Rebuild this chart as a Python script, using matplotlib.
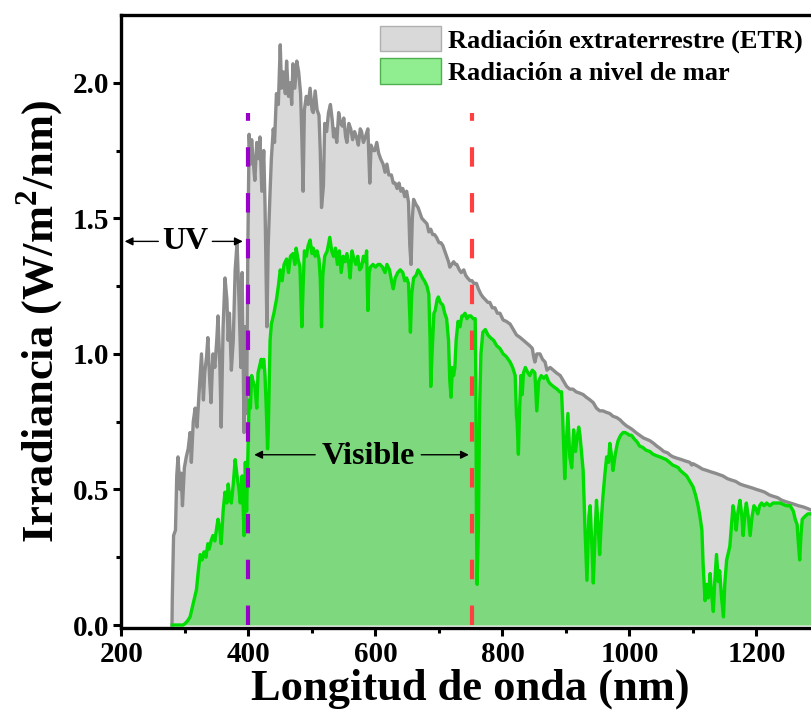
import matplotlib
matplotlib.use("Agg")
import matplotlib.pyplot as plt
from matplotlib.patches import Patch
import numpy as np

plt.rcParams['font.family'] = ['Liberation Serif', 'DejaVu Serif']
plt.rcParams['font.weight'] = 'bold'
plt.rcParams['mathtext.fontset'] = 'custom'
plt.rcParams['mathtext.rm'] = 'Liberation Serif:bold'
plt.rcParams['mathtext.bf'] = 'Liberation Serif:bold'
plt.rcParams['lines.scale_dashes'] = False

# ---- data: extraterrestrial radiation (ETR) ----
etr_wl = [279.5, 280, 282, 285, 287, 289, 292, 294, 296, 299, 302, 305, 308, 310, 313, 316, 319, 322, 326, 329,
          331, 334, 336, 339, 341, 344, 347, 350, 352, 355, 357, 360, 363, 366, 368, 370, 373, 376, 379, 382,
          385, 388, 390, 393, 395, 397, 399, 401, 403, 405, 407, 410, 413, 416, 418, 421, 424, 426, 429, 431,
          434, 436, 439, 441, 444, 447, 450, 452, 455, 458, 460, 463, 466, 468, 470, 473, 476, 479, 482, 484,
          486, 488, 491, 494, 497, 500, 502, 505, 508, 511, 513, 515, 518, 520, 523, 526, 529, 532, 534, 536,
          539, 542, 545, 548, 550, 553, 555, 558, 561, 564, 567, 570, 573, 576, 578, 581, 584, 588, 590, 591,
          593, 596, 599, 602, 605, 608, 612, 615, 618, 621, 625, 628, 631, 634, 637, 640, 643, 646, 649, 652,
          654, 656, 658, 660, 664, 667, 670, 673, 677, 681, 684, 687, 690, 693, 696, 700, 703, 706, 709, 712,
          715, 717, 720, 723, 726, 728, 732, 735, 739, 742, 745, 749, 752, 755, 759, 762, 766, 769, 773, 777,
          780, 784, 788, 792, 796, 801, 806, 812, 817, 822, 828, 833, 838, 843, 847, 849, 851, 854, 859, 863,
          867, 870, 875, 880, 885, 891, 896, 901, 906, 911, 916, 922, 927, 932, 938, 943, 948, 953, 958, 963,
          969, 974, 980, 985, 990, 995, 1000, 1005, 1010, 1016, 1022, 1027, 1032, 1038, 1043, 1049, 1054, 1060, 1065, 1069,
          1075, 1082, 1088, 1095, 1098, 1100, 1108, 1115, 1122, 1128, 1135, 1141, 1147, 1154, 1160, 1167, 1174, 1180, 1187, 1194,
          1200, 1207, 1213, 1220, 1226, 1233, 1240, 1246, 1253, 1260, 1266, 1273, 1280, 1290, 1300]
etr_val = [0.0, 0.10, 0.33, 0.35, 0.55, 0.62, 0.50, 0.56, 0.44, 0.58, 0.62, 0.65, 0.71, 0.60, 0.75, 0.80, 0.73, 0.85, 1.00, 0.83,
           0.93, 0.99, 1.06, 0.90, 0.82, 1.00, 0.95, 1.05, 1.14, 0.95, 0.73, 1.10, 1.28, 1.20, 1.05, 1.15, 0.94, 1.05, 1.31, 1.41,
           1.20, 0.95, 1.30, 0.71, 1.10, 0.78, 1.40, 1.81, 1.70, 1.79, 1.72, 1.64, 1.78, 1.72, 1.80, 1.60, 1.75, 1.55, 1.10, 1.40,
           1.60, 1.72, 1.83, 1.78, 1.96, 1.92, 2.14, 1.98, 2.04, 1.96, 2.08, 1.95, 2.00, 1.92, 2.07, 1.98, 2.08, 2.04, 1.96, 1.80,
           1.60, 1.90, 1.95, 1.92, 1.98, 1.90, 1.89, 1.97, 1.90, 1.88, 1.75, 1.54, 1.62, 1.85, 1.82, 1.89, 1.92, 1.86, 1.80, 1.83,
           1.78, 1.89, 1.85, 1.84, 1.87, 1.80, 1.78, 1.85, 1.83, 1.79, 1.82, 1.80, 1.77, 1.83, 1.82, 1.78, 1.80, 1.83, 1.70, 1.63,
           1.77, 1.75, 1.75, 1.78, 1.74, 1.72, 1.70, 1.67, 1.70, 1.66, 1.66, 1.63, 1.63, 1.61, 1.63, 1.60, 1.61, 1.58, 1.60, 1.56,
           1.40, 1.33, 1.50, 1.57, 1.55, 1.54, 1.52, 1.50, 1.49, 1.48, 1.45, 1.46, 1.44, 1.44, 1.43, 1.41, 1.41, 1.40, 1.38, 1.36,
           1.34, 1.32, 1.33, 1.34, 1.33, 1.33, 1.31, 1.30, 1.31, 1.29, 1.28, 1.27, 1.27, 1.26, 1.26, 1.24, 1.22, 1.21, 1.20, 1.19,
           1.19, 1.17, 1.17, 1.15, 1.15, 1.125, 1.12, 1.11, 1.09, 1.07, 1.06, 1.05, 1.04, 1.03, 1.02, 0.99, 0.97, 1.00, 1.00, 0.98,
           0.97, 0.94, 0.95, 0.94, 0.93, 0.92, 0.90, 0.88, 0.87, 0.87, 0.86, 0.855, 0.85, 0.84, 0.83, 0.82, 0.80, 0.79, 0.79, 0.785,
           0.78, 0.77, 0.765, 0.757, 0.745, 0.735, 0.728, 0.72, 0.71, 0.70, 0.69, 0.685, 0.68, 0.67, 0.66, 0.65, 0.64, 0.635, 0.625, 0.62,
           0.615, 0.61, 0.605, 0.60, 0.59, 0.595, 0.585, 0.575, 0.57, 0.565, 0.56, 0.555, 0.55, 0.54, 0.535, 0.53, 0.52, 0.515, 0.51, 0.505,
           0.50, 0.495, 0.49, 0.48, 0.475, 0.47, 0.46, 0.455, 0.45, 0.445, 0.44, 0.436, 0.43, 0.42, 0.41]

# ---- data: sea-level radiation ----
sea_wl = [280, 297, 300, 304, 308, 312, 315, 318, 321, 324, 327, 330, 333, 336, 338, 341, 344, 347, 350, 352,
          355, 357, 360, 363, 366, 368, 370, 373, 376, 379, 382, 385, 387, 390, 393, 395, 397, 399, 401, 403,
          405, 407, 410, 413, 415, 418, 420, 422, 424, 426, 428, 430, 431, 434, 436, 440, 444, 447, 450, 453,
          456, 460, 463, 466, 470, 473, 475, 478, 481, 484, 486, 488, 491, 494, 497, 500, 502, 505, 508, 511,
          513, 515, 517, 520, 524, 528, 531, 534, 537, 540, 543, 546, 549, 552, 555, 558, 560, 563, 566, 569,
          572, 575, 578, 581, 584, 586, 588, 590, 592, 596, 600, 604, 607, 611, 615, 618, 622, 626, 628, 631,
          635, 639, 643, 646, 649, 652, 655, 657, 660, 664, 667, 670, 674, 677, 681, 684, 686, 687, 689, 692,
          694, 697, 699, 702, 706, 709, 712, 715, 717, 719, 721, 723, 725, 727, 730, 733, 736, 738, 741, 744,
          747, 750, 754, 757, 758, 759, 760, 762, 764, 766, 769, 773, 777, 781, 786, 791, 796, 801, 806, 812,
          816, 820, 822, 823, 825, 827, 829, 831, 833, 836, 840, 843, 847, 851, 854, 857, 861, 865, 869, 872,
          875, 880, 886, 890, 893, 895, 898, 900, 903, 906, 909, 912, 915, 917, 920, 922, 925, 927, 930, 933,
          936, 938, 941, 943, 946, 948, 951, 953, 956, 958, 961, 964, 967, 969, 972, 974, 977, 980, 982, 986,
          990, 993, 997, 1000, 1003, 1008, 1012, 1016, 1021, 1026, 1032, 1037, 1042, 1048, 1053, 1058, 1063, 1068, 1073, 1077,
          1080, 1085, 1090, 1095, 1100, 1104, 1108, 1111, 1114, 1116, 1119, 1122, 1124, 1127, 1129, 1132, 1134, 1137, 1140, 1142,
          1145, 1148, 1150, 1153, 1156, 1158, 1161, 1163, 1166, 1168, 1171, 1174, 1177, 1179, 1182, 1184, 1187, 1190, 1193, 1196,
          1199, 1202, 1205, 1208, 1212, 1216, 1221, 1226, 1231, 1237, 1242, 1247, 1253, 1258, 1261, 1264, 1266, 1268, 1270, 1272,
          1276, 1281, 1290, 1300]
sea_val = [0.0, 0.0, 0.005, 0.015, 0.03, 0.07, 0.10, 0.13, 0.20, 0.26, 0.24, 0.27, 0.25, 0.30, 0.28, 0.31, 0.33, 0.31, 0.36, 0.39,
           0.35, 0.30, 0.42, 0.49, 0.45, 0.52, 0.48, 0.45, 0.52, 0.61, 0.55, 0.50, 0.45, 0.55, 0.33, 0.60, 0.42, 0.63, 0.83, 0.80,
           0.92, 0.90, 0.88, 0.80, 0.93, 0.96, 0.98, 0.95, 0.98, 0.92, 0.80, 0.65, 0.70, 1.05, 1.11, 1.15, 1.20, 1.25, 1.31, 1.27,
           1.33, 1.35, 1.30, 1.36, 1.37, 1.33, 1.39, 1.35, 1.32, 1.10, 1.25, 1.38, 1.36, 1.40, 1.42, 1.37, 1.39, 1.36, 1.38, 1.35,
           1.28, 1.10, 1.29, 1.36, 1.38, 1.43, 1.38, 1.36, 1.39, 1.33, 1.38, 1.30, 1.36, 1.34, 1.37, 1.33, 1.28, 1.38, 1.35, 1.33,
           1.36, 1.31, 1.32, 1.36, 1.34, 1.38, 1.16, 1.30, 1.32, 1.33, 1.32, 1.33, 1.33, 1.32, 1.30, 1.33, 1.31, 1.26, 1.24, 1.28,
           1.30, 1.31, 1.30, 1.27, 1.28, 1.26, 1.08, 1.22, 1.28, 1.29, 1.31, 1.30, 1.28, 1.27, 1.25, 1.22, 1.05, 0.88, 1.00, 1.15,
           1.16, 1.20, 1.21, 1.19, 1.18, 1.15, 1.13, 1.05, 0.90, 0.84, 0.95, 0.92, 0.95, 1.05, 1.12, 1.10, 1.14, 1.14, 1.15, 1.13,
           1.14, 1.14, 1.13, 1.13, 0.90, 0.40, 0.15, 0.35, 0.80, 1.00, 1.08, 1.09, 1.07, 1.06, 1.05, 1.03, 1.02, 1.00, 0.99, 0.97,
           0.95, 0.92, 0.77, 0.75, 0.63, 0.80, 0.92, 0.85, 0.93, 0.95, 0.93, 0.92, 0.94, 0.93, 0.79, 0.90, 0.92, 0.91, 0.92, 0.90,
           0.89, 0.88, 0.87, 0.86, 0.86, 0.75, 0.54, 0.65, 0.78, 0.62, 0.58, 0.72, 0.64, 0.68, 0.73, 0.70, 0.62, 0.57, 0.35, 0.165,
           0.40, 0.44, 0.28, 0.155, 0.35, 0.46, 0.35, 0.26, 0.40, 0.47, 0.55, 0.62, 0.60, 0.67, 0.62, 0.57, 0.62, 0.66, 0.68, 0.70,
           0.71, 0.71, 0.705, 0.70, 0.70, 0.685, 0.675, 0.66, 0.655, 0.645, 0.64, 0.63, 0.625, 0.62, 0.615, 0.61, 0.60, 0.59, 0.585, 0.58,
           0.57, 0.56, 0.55, 0.53, 0.51, 0.48, 0.44, 0.40, 0.35, 0.22, 0.09, 0.15, 0.10, 0.19, 0.12, 0.05, 0.15, 0.26, 0.16, 0.20,
           0.10, 0.03, 0.15, 0.24, 0.27, 0.29, 0.38, 0.44, 0.40, 0.35, 0.42, 0.46, 0.40, 0.33, 0.42, 0.45, 0.40, 0.33, 0.40, 0.44,
           0.43, 0.41, 0.44, 0.45, 0.44, 0.45, 0.44, 0.45, 0.45, 0.45, 0.445, 0.44, 0.44, 0.42, 0.39, 0.37, 0.30, 0.24, 0.33, 0.39,
           0.40, 0.41, 0.41, 0.40]

uv_limit = 400
vis_limit = 752
legend_labels = ['Radiación extraterrestre (ETR)', 'Radiación a nivel de mar']

W, H = 812, 719
fig = plt.figure(figsize=(W / 100, H / 100), dpi=100)
left_px, right_px, top_px, bot_px = 121.5, 121.5 + 1100 * 0.635, 15, 628
ax = fig.add_axes([left_px / W, 1 - bot_px / H, (right_px - left_px) / W, (bot_px - top_px) / H])

ax.fill_between(etr_wl, etr_val, 0, color='#d9d9d9', lw=0, zorder=1)
ax.plot(etr_wl, etr_val, color='#8c8c8c', lw=2.4, zorder=2)
ax.fill_between(sea_wl, sea_val, 0, color=(0, 0.843, 0), alpha=0.42, lw=0, zorder=3)
ax.plot(sea_wl, sea_val, color='#00dd00', lw=2.4, zorder=4)

ax.plot([uv_limit, uv_limit], [0, 1.89], color='#9a00cc', lw=3, dashes=(14, 19), zorder=5)
ax.plot([vis_limit, vis_limit], [0, 1.89], color='#ff4040', lw=3, dashes=(14, 19), zorder=5)

ap = dict(arrowstyle='-|>', color='black', lw=1.0, mutation_scale=12, shrinkA=0, shrinkB=0)
ax.annotate('', xy=(205, 1.415), xytext=(258, 1.415), arrowprops=ap, zorder=6)
ax.annotate('', xy=(391, 1.415), xytext=(343, 1.415), arrowprops=ap, zorder=6)
ax.text(300, 1.415, 'UV', fontsize=23, fontweight='bold', ha='center', va='center', zorder=6)
ax.annotate('', xy=(409, 0.628), xytext=(505, 0.628), arrowprops=ap, zorder=6)
ax.annotate('', xy=(747, 0.628), xytext=(672, 0.628), arrowprops=ap, zorder=6)
ax.text(588, 0.620, 'Visible', fontsize=23, fontweight='bold', ha='center', va='center', zorder=6)

ax.set_xlim(200, 1300)
ax.set_ylim(-0.011, 2.25)
ax.set_xticks([200, 400, 600, 800, 1000, 1200])
ax.set_xticks(np.arange(300, 1300, 200), minor=True)
ax.set_yticks([0.0, 0.5, 1.0, 1.5, 2.0])
ax.set_yticks([0.25, 0.75, 1.25, 1.75], minor=True)
ax.set_yticklabels(['0.0', '0.5', '1.0', '1.5', '2.0'])
ax.tick_params(which='major', direction='out', length=6, width=2.2, labelsize=21, pad=3)
ax.tick_params(which='minor', direction='out', length=3.5, width=2.2)
for lab in ax.get_xticklabels() + ax.get_yticklabels():
    lab.set_fontweight('bold')
for s in ax.spines.values():
    s.set_linewidth(2.4)

ax.set_xlabel('Longitud de onda (nm)', fontsize=32, fontweight='bold', labelpad=1)
ax.set_ylabel('Irradiancia (W/m$^2$/nm)', fontsize=32, fontweight='bold', labelpad=5)

handles = [Patch(facecolor='#d9d9d9', edgecolor='#b0b0b0', lw=1.0),
           Patch(facecolor='#90ee90', edgecolor='#50b050', lw=1.0)]
leg = fig.legend(handles, legend_labels, loc='upper left', bbox_to_anchor=(380 / W, 1 - 26 / H),
                 frameon=False, borderpad=0, prop={'weight': 'bold', 'size': 19},
                 handlelength=2.3, handleheight=1.1, handletextpad=0.28, labelspacing=0.2, borderaxespad=0)

fig.savefig('out.png', dpi=100)
